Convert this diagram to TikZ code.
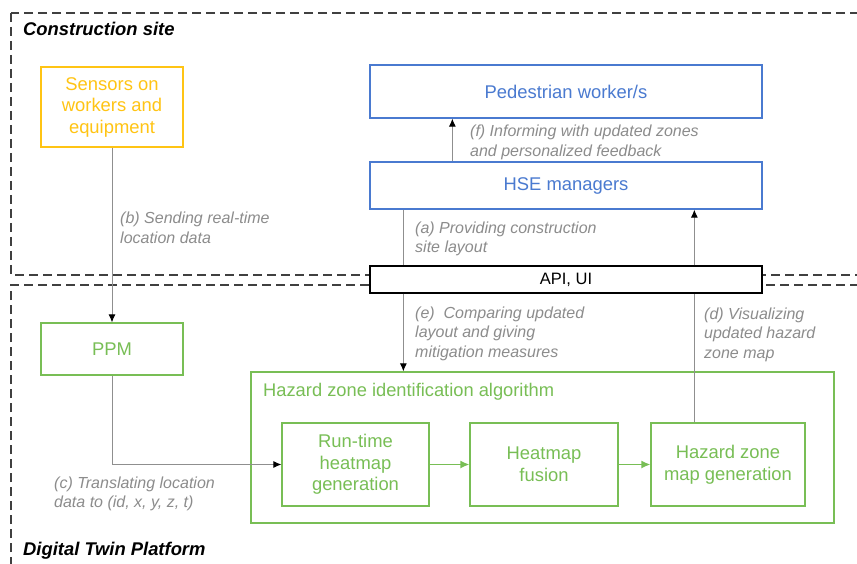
\documentclass[tikz,border=0pt]{standalone}
\usepackage{fontspec}
\setmainfont{Liberation Sans}
\usetikzlibrary{arrows.meta}
\definecolor{cblue}{HTML}{4A7AD0}
\definecolor{cgreen}{HTML}{78BE55}
\definecolor{cyellow}{HTML}{FFC414}
\definecolor{cnote}{HTML}{8C8C8C}
\definecolor{cline}{HTML}{8F8F8F}
\definecolor{cdash}{HTML}{404040}
\tikzset{
  box/.style={draw, line width=1.3pt, inner sep=0pt, align=center,
    font=\fontsize{18.4}{21.5}\selectfont},
  bluebox/.style={box, draw=cblue, text=cblue},
  greenbox/.style={box, draw=cgreen, text=cgreen},
  yellowbox/.style={box, draw=cyellow, text=cyellow},
  % base anchor of a multi-line note sits on its last line
  note/.style={anchor=base west, inner sep=0pt, align=left, text=cnote,
    font=\fontsize{16}{19.5}\selectfont\itshape},
  zonetitle/.style={anchor=base west, inner sep=0pt,
    font=\fontsize{18.4}{21}\selectfont\bfseries\itshape},
  zone/.style={draw=cdash, line width=1.4pt, dash pattern=on 9pt off 5pt},
  link/.style={draw=cline, line width=0.9pt},
  conn/.style={link, -{Latex[color=black, length=8pt, width=7pt]}},
  gconn/.style={draw=cgreen, line width=1.3pt, -{Latex[length=9pt, width=8pt]}},
}
\begin{document}
\begin{tikzpicture}[x=1pt, y=-1pt]
\useasboundingbox (0,0) rectangle (857,564);
\fill[white] (0,0) rectangle (857,564);
\clip (0,0) rectangle (857,564);

% two dashed zones
\draw[zone] (11,13) rectangle (880,275);
\draw[zone] (11,580) -- (11,285) -- (880,285);
\node[zonetitle] (tcs) at (23,35.5) {Construction site};
\node[zonetitle] (tdt) at (23,555.5) {Digital Twin Platform};

% construction site
\node[yellowbox, minimum width=142pt, minimum height=80pt] (sensors) at (112,107)
  {Sensors on\\workers and\\equipment};
\node[bluebox, minimum width=392pt, minimum height=53pt] (ped) at (566,91.5)
  {Pedestrian worker/s};
\node[bluebox, minimum width=392pt, minimum height=47pt] (hse) at (566,185.5)
  {\raisebox{-2pt}{HSE managers}};

% interface
\node[draw=black, fill=white, line width=1.3pt, inner sep=0pt,
  minimum width=392pt, minimum height=27pt,
  font=\fontsize{16.5}{19}\selectfont] (api) at (566,279.5) {API, UI};

% digital twin platform
\node[greenbox, minimum width=142pt, minimum height=52pt] (ppm) at (112,349) {PPM};
\node[draw=cgreen, line width=1.3pt, minimum width=583pt, minimum height=151pt,
  inner sep=0pt] (haz) at (542.5,447.5) {};
\node[anchor=base west, inner sep=0pt, text=cgreen,
  font=\fontsize{18.3}{21}\selectfont] (haztitle) at (263,396.5)
  {Hazard zone identification algorithm};
\node[greenbox, minimum width=147pt, minimum height=83pt] (run) at (355.5,464.5)
  {Run-time\\heatmap\\generation};
\node[greenbox, minimum width=148pt, minimum height=83pt] (fus) at (544,464.5)
  {Heatmap\\fusion};
\node[greenbox, minimum width=154pt, minimum height=83pt] (map) at (728,464.5)
  {Hazard zone\\map generation};

% connectors
\draw[conn] (sensors.south) -- (ppm.north);
\draw[conn] (ppm.south) |- (run.west);
\draw[gconn] (run.east) -- (fus.west);
\draw[gconn] (fus.east) -- (map.west);
\draw[conn] ([xshift=83pt]hse.north west) -- ([xshift=83pt]ped.south west);
\draw[link] ([xshift=34pt]hse.south west) -- ([xshift=34pt]api.north west);
\draw[conn] ([xshift=34pt]api.south west) -- ([xshift=34pt]api.south west |- haz.north);
\draw[link] ([xshift=44pt]map.north west) -- ([xshift=44pt]map.north west |- api.south);
\draw[conn] ([xshift=325pt]api.north west) -- ([xshift=325pt]api.north west |- hse.south);

% connector labels
\node[note] (lb) at (120,243.5) {(b) Sending real-time\\location data};
\node[note] (la) at (415,252.5) {(a) Providing construction\\site layout};
\node[note] (lf) at (470,156.5) {(f) Informing with updated zones\\and personalized feedback};
\node[note] (le) at (415,357) {(e)\ \ Comparing updated\\layout and giving\\mitigation measures};
\node[note] (ld) at (704,358) {(d) Visualizing\\updated hazard\\zone map};
\node[note] (lc) at (54,507.5) {(c) Translating location\\data to (id, x, y, z, t)};
\end{tikzpicture}
\end{document}
